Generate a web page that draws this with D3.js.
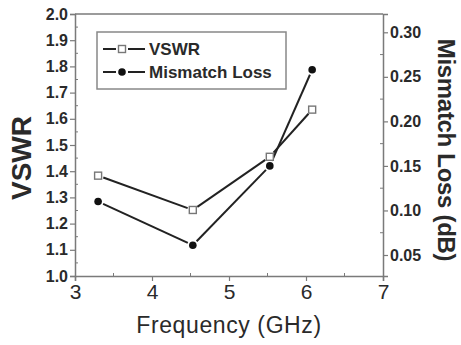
<!DOCTYPE html>
<html><head><meta charset="utf-8">
<script src="https://cdn.jsdelivr.net/npm/d3@7"></script>
<style>
body{margin:0;background:#fff;}
text{font-family:"Liberation Sans",Arial,sans-serif;fill:#2a2a2a;}
</style></head>
<body><svg id="c" width="461" height="345"></svg>
<script>
const freq = [3.30, 4.53, 5.53, 6.08];
const vswr = [1.383, 1.252, 1.455, 1.635];
const mismatchLoss = [0.110, 0.061, 0.150, 0.258];
const xTicks = [3, 4, 5, 6, 7];
const vswrTicks = [1.0, 1.1, 1.2, 1.3, 1.4, 1.5, 1.6, 1.7, 1.8, 1.9, 2.0];
const lossTicks = [0.05, 0.10, 0.15, 0.20, 0.25, 0.30];

const svg = d3.select("#c");
const L = 75, R = 383, T = 14, B = 276;
const x = d3.scaleLinear().domain([3, 7]).range([L, R]);
const yL = d3.scaleLinear().domain([1, 2]).range([B, T]);
const yR0 = d3.scaleLinear().domain([0.05, 0.30]).range([255, 32.3]);
const yR = d3.scaleLinear().domain([yR0.invert(B), yR0.invert(T)]).range([B, T]);
const axisCol = "#7a7a7a";

svg.append("line").attr("x1", L).attr("x2", R).attr("y1", T).attr("y2", T)
  .attr("stroke", axisCol).attr("stroke-width", 1.5);

function styleAxis(g){
  g.select(".domain").attr("stroke", axisCol).attr("stroke-width", 1.5);
  g.selectAll(".tick line").attr("stroke", axisCol).attr("stroke-width", 1.2);
}

const gMinor = svg.append("g");
d3.range(3.5, 7, 1).forEach(v => gMinor.append("line").attr("x1", x(v)).attr("x2", x(v)).attr("y1", B).attr("y2", B - 3).attr("stroke", axisCol));
d3.range(1.05, 2, 0.1).forEach(v => gMinor.append("line").attr("x1", L).attr("x2", L + 3).attr("y1", yL(v)).attr("y2", yL(v)).attr("stroke", axisCol));
d3.range(0.075, 0.31, 0.05).forEach(v => gMinor.append("line").attr("x1", R).attr("x2", R - 3).attr("y1", yR(v)).attr("y2", yR(v)).attr("stroke", axisCol));

const gx = svg.append("g").attr("transform", `translate(0,${B})`)
  .call(d3.axisBottom(x).tickValues(xTicks).tickFormat(d3.format("d")).tickSizeOuter(0).tickSize(5).tickPadding(3));
styleAxis(gx);
gx.selectAll(".tick text").attr("font-size", 21).attr("fill", "#2a2a2a").attr("font-family", "Liberation Sans, Arial, sans-serif");

const gl = svg.append("g").attr("transform", `translate(${L},0)`)
  .call(d3.axisLeft(yL).tickValues(vswrTicks).tickFormat(d3.format(".1f")).tickSizeOuter(0).tickSize(5).tickPadding(2));
styleAxis(gl);
gl.selectAll(".tick text").attr("font-size", 16).attr("font-weight", "bold").attr("fill", "#2a2a2a").attr("font-family", "Liberation Sans, Arial, sans-serif");

const gr = svg.append("g").attr("transform", `translate(${R},0)`)
  .call(d3.axisRight(yR).tickValues(lossTicks).tickFormat(d3.format(".2f")).tickSizeOuter(0).tickSize(5).tickPadding(2));
styleAxis(gr);
gr.selectAll(".tick text").attr("font-size", 16).attr("font-weight", "bold").attr("fill", "#2a2a2a").attr("font-family", "Liberation Sans, Arial, sans-serif");

svg.append("text").attr("x", 229).attr("y", 333).attr("text-anchor", "middle")
  .attr("font-size", 23).attr("letter-spacing", 0.6).text("Frequency (GHz)");
svg.append("text").attr("transform", "translate(31,158) rotate(-90)").attr("text-anchor", "middle")
  .attr("font-size", 28).attr("font-weight", "bold").text("VSWR");
svg.append("text").attr("transform", "translate(438,150) rotate(90)").attr("text-anchor", "middle")
  .attr("font-size", 24).attr("font-weight", "bold").attr("letter-spacing", -0.3).text("Mismatch Loss (dB)");

const lineCol = "#222";
const pts = freq.map((f, i) => ({f, v: vswr[i], m: mismatchLoss[i]}));

// line segments with small gaps near markers
function gappedSegments(getY, gap) {
  const segs = [];
  for (let i = 0; i < pts.length - 1; i++) {
    const x1 = x(pts[i].f), y1 = getY(pts[i]), x2 = x(pts[i + 1].f), y2 = getY(pts[i + 1]);
    const len = Math.hypot(x2 - x1, y2 - y1), ux = (x2 - x1) / len, uy = (y2 - y1) / len;
    segs.push([x1 + ux * gap, y1 + uy * gap, x2 - ux * gap, y2 - uy * gap]);
  }
  return segs;
}
[[d => yL(d.v)], [d => yR(d.m)]].forEach(([g]) => {
  svg.append("g").selectAll("line").data(gappedSegments(g, 5.5)).join("line")
    .attr("x1", s => s[0]).attr("y1", s => s[1]).attr("x2", s => s[2]).attr("y2", s => s[3])
    .attr("stroke", lineCol).attr("stroke-width", 2);
});

svg.selectAll(".sq").data(pts).join("rect")
  .attr("x", d => x(d.f) - 3.5).attr("y", d => yL(d.v) - 3.5).attr("width", 7).attr("height", 7)
  .attr("fill", "#fff").attr("stroke", "#777").attr("stroke-width", 1.4);
svg.selectAll(".dot").data(pts).join("circle")
  .attr("cx", d => x(d.f)).attr("cy", d => yR(d.m)).attr("r", 3.8).attr("fill", "#111");

const lg = svg.append("g");
lg.append("rect").attr("x", 97).attr("y", 32).attr("width", 189).attr("height", 57)
  .attr("fill", "#fff").attr("stroke", "#888").attr("stroke-width", 1.5);
const items = [{name: "VSWR", y: 49, type: "sq"}, {name: "Mismatch Loss", y: 72, type: "dot"}];
items.forEach(it => {
  lg.append("line").attr("x1", 103).attr("x2", 116).attr("y1", it.y).attr("y2", it.y)
    .attr("stroke", lineCol).attr("stroke-width", 2);
  lg.append("line").attr("x1", 128).attr("x2", 145).attr("y1", it.y).attr("y2", it.y)
    .attr("stroke", lineCol).attr("stroke-width", 2);
  if (it.type === "sq") {
    lg.append("rect").attr("x", 118.5).attr("y", it.y - 3.5).attr("width", 7).attr("height", 7)
      .attr("fill", "#fff").attr("stroke", "#777").attr("stroke-width", 1.4);
  } else {
    lg.append("circle").attr("cx", 122).attr("cy", it.y).attr("r", 3.8).attr("fill", "#111");
  }
  lg.append("text").attr("x", 149).attr("y", it.y + 6).attr("font-size", 17).attr("font-weight", "bold").text(it.name);
});
</script></body></html>
